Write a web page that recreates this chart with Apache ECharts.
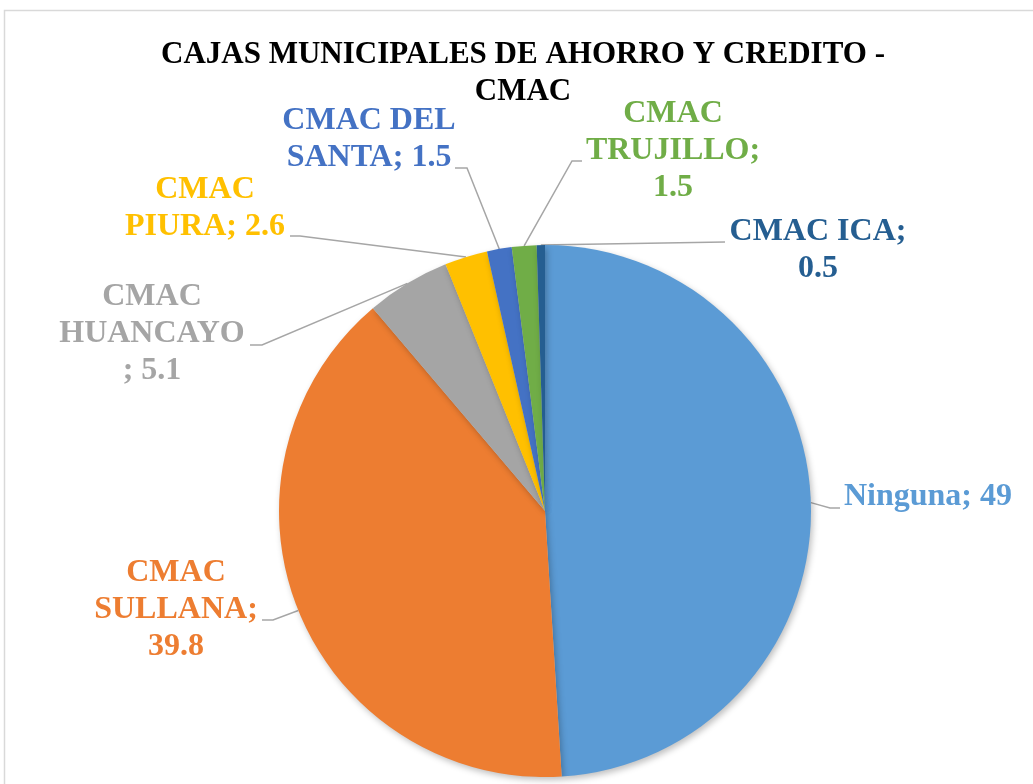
<!DOCTYPE html>
<html>
<head>
<meta charset="utf-8">
<script src="https://cdn.jsdelivr.net/npm/echarts@6/dist/echarts.min.js"></script>
<style>
  html, body { margin: 0; padding: 0; background: #fff; }
  #chart { width: 1033px; height: 784px; }
</style>
</head>
<body>
<div id="chart"></div>
<script>
const names = ["Ninguna", "CMAC SULLANA", "CMAC HUANCAYO", "CMAC PIURA", "CMAC DEL SANTA", "CMAC TRUJILLO", "CMAC ICA"];
const values = [49, 39.8, 5.1, 2.6, 1.5, 1.5, 0.5];
const colors = ["#5B9BD5", "#ED7D31", "#A5A5A5", "#FFC000", "#4472C4", "#70AD47", "#255E91"];
// how each label wraps, as Excel broke it
const labelLines = [
  ["Ninguna; 49"],
  ["CMAC", "SULLANA;", "39.8"],
  ["CMAC", "HUANCAYO", "; 5.1"],
  ["CMAC", "PIURA; 2.6"],
  ["CMAC DEL", "SANTA; 1.5"],
  ["CMAC", "TRUJILLO;", "1.5"],
  ["CMAC ICA;", "0.5"]
];

// label placement: text centre, then the leader line's elbow and end
const labelPlace = [
  { x: 928, y: 497, elbow: [830, 508], end: [840, 508] },
  { x: 176, y: 610, elbow: [273, 620], end: [262, 620] },
  { x: 152, y: 334, elbow: [262, 345], end: [250, 345] },
  { x: 205, y: 208, elbow: [300, 236], end: [290, 236] },
  { x: 369, y: 139, elbow: [467, 168], end: [455, 168] },
  { x: 673, y: 151, elbow: [572, 161], end: [582, 161] },
  { x: 818, y: 250, elbow: [725, 242], end: [725, 242] }
];

const serif = "'Liberation Serif', 'DejaVu Serif', serif";

const chart = echarts.init(document.getElementById("chart"));

chart.setOption({
  backgroundColor: "#fff",
  animation: false,
  title: {
    text: "CAJAS MUNICIPALES DE AHORRO Y CREDITO -\nCMAC",
    left: 518,
    top: 31,
    textAlign: "center",
    textStyle: {
      fontFamily: serif,
      fontWeight: "bold",
      fontSize: 31,
      lineHeight: 37,
      color: "#000"
    }
  },
  graphic: [
    {
      type: "rect",
      z: -10,
      shape: { x: 4.5, y: 10.5, width: 1200, height: 900 },
      style: { fill: "none", stroke: "#d9d9d9", lineWidth: 1.5 }
    }
  ],
  series: [
    {
      type: "pie",
      center: [545, 511],
      radius: 266,
      startAngle: 90,
      clockwise: true,
      avoidLabelOverlap: false,
      data: names.map((n, i) => ({
        name: n,
        value: values[i],
        itemStyle: { color: colors[i] },
        label: { color: colors[i] }
      })),
      itemStyle: {
        borderWidth: 0,
        shadowBlur: 6,
        shadowColor: "rgba(0,0,0,0.25)",
        shadowOffsetX: 2,
        shadowOffsetY: 3
      },
      label: {
        show: true,
        position: "outside",
        formatter: (p) => labelLines[p.dataIndex].join("\n"),
        fontFamily: serif,
        fontWeight: "bold",
        fontSize: 32,
        lineHeight: 37,
        align: "center"
      },
      labelLine: {
        show: true,
        length: 15,
        length2: 10,
        minTurnAngle: 0,
        maxSurfaceAngle: 180,
        lineStyle: { color: "#A6A6A6", width: 1.5 }
      },
      labelLayout: (params) => {
        const p = labelPlace[params.dataIndex];
        const anchor = params.labelLinePoints ? params.labelLinePoints[0] : p.elbow;
        return {
          x: p.x,
          y: p.y,
          align: "center",
          verticalAlign: "middle",
          labelLinePoints: [anchor, p.elbow, p.end]
        };
      }
    }
  ]
});

window.addEventListener("resize", () => chart.resize());
</script>
</body>
</html>
